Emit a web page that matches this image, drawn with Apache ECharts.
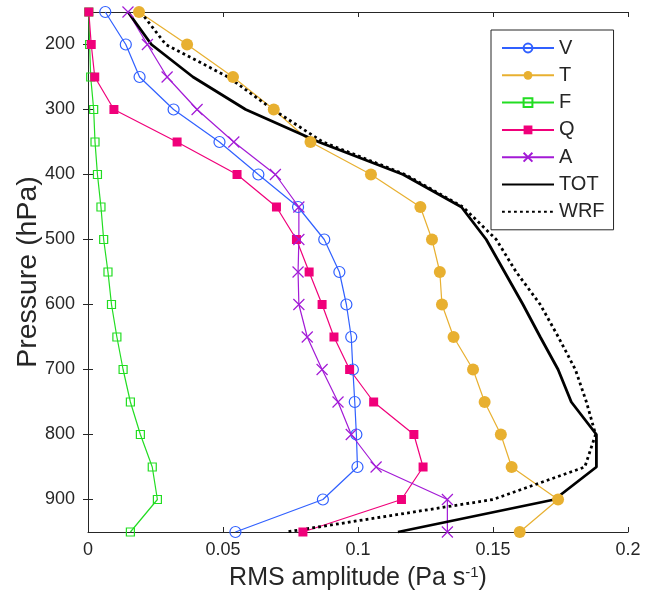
<!DOCTYPE html>
<html>
<head>
<meta charset="utf-8">
<script src="https://cdn.jsdelivr.net/npm/echarts@6/dist/echarts.min.js"></script>
<style>html,body{margin:0;padding:0;background:#fff}#c{width:654px;height:596px}</style>
</head>
<body>
<div id="c"></div>
<script>
const pressure = [150,200,250,300,350,400,450,500,550,600,650,700,750,800,850,900,950];
const V   = [0.0064,0.0140,0.0191,0.0317,0.0487,0.0631,0.0778,0.0875,0.0931,0.0957,0.0975,0.0981,0.0988,0.0994,0.0998,0.0870,0.0546];
const T   = [0.0189,0.0367,0.0537,0.0688,0.0824,0.1048,0.1231,0.1274,0.1303,0.1311,0.1354,0.1426,0.1469,0.1529,0.1569,0.1741,0.1599];
const F   = [0.0003,0.0006,0.0010,0.0021,0.0026,0.0035,0.0048,0.0058,0.0074,0.0087,0.0107,0.0130,0.0157,0.0194,0.0238,0.0257,0.0157];
const Q   = [0.0003,0.0012,0.0025,0.0096,0.0330,0.0552,0.0698,0.0772,0.0819,0.0867,0.0911,0.0969,0.1058,0.1207,0.1241,0.1161,0.0796];
const A   = [0.0148,0.0220,0.0293,0.0404,0.0540,0.0694,0.0781,0.0781,0.0778,0.0781,0.0812,0.0867,0.0926,0.0975,0.1067,0.1331,0.1331];
const TOT = [0.0148,0.0235,0.0389,0.0584,0.0855,0.1167,0.1383,0.1475,0.1543,0.1611,0.1675,0.1741,0.1790,0.1883,0.1883,0.1728,0.1148];
const WRF = [0.0195,0.0288,0.0519,0.0685,0.0870,0.1175,0.1389,0.1512,0.1586,0.1675,0.1742,0.1805,0.1846,0.1880,0.1840,0.1500,0.0735];
const yTicks = [200,300,400,500,600,700,800,900];
const xTicks = [0,0.05,0.1,0.15,0.2];

const FONT = 'Liberation Sans';
const AX = '#262626';
const pairs = arr => arr.map((v,i)=>[v, pressure[i]]);

function mk(name, data, color, symbol, size, filled) {
  return {
    name, type:'line', data: pairs(data), clip:false,
    symbol, symbolSize: size, showSymbol: true,
    lineStyle:{color, width:1.2},
    itemStyle: filled ? {color, borderColor: color, borderWidth: 0}
                      : {color:'rgba(0,0,0,0)', borderColor: color, borderWidth: 1.2},
    emphasis:{disabled:true}
  };
}

const chart = echarts.init(document.getElementById('c'), null, {renderer:'canvas'});
const axisCommon = {
  axisLine:{show:true, lineStyle:{color:AX, width:1}},
  splitLine:{show:false}
};
const noSym = {color:'rgba(0,0,0,0)', borderWidth:0, borderColor:'rgba(0,0,0,0)'};
chart.setOption({
  animation:false,
  backgroundColor:'#fff',
  textStyle:{fontFamily:FONT},
  grid:{left:88, right:26, top:12, bottom:64, containLabel:false, outerBoundsMode:'none'},
  legend:{
    orient:'vertical', left:491, top:30,
    data:['V','T','F','Q','A',
      {name:'TOT', itemStyle:noSym},
      {name:'WRF', itemStyle:noSym}],
    itemWidth:52, itemHeight:11, itemGap:7.3,
    padding:[8,9,8,10],
    borderColor:AX, borderWidth:1, backgroundColor:'#fff',
    textStyle:{fontFamily:FONT, fontSize:20, color:AX},
    selectedMode:false
  },
  xAxis:[
    Object.assign({type:'value', position:'bottom', min:0, max:0.2, interval:0.05,
      axisTick:{show:true, inside:true, length:5, lineStyle:{color:AX}},
      axisLabel:{show:true, margin:9, fontSize:18, color:AX, fontFamily:FONT,
        customValues: xTicks},
      name:'RMS amplitude (Pa s{sup|-1})', nameLocation:'middle', nameGap:33, nameMoveOverlap:false,
      nameTextStyle:{fontFamily:FONT, fontSize:25, color:AX,
        rich:{sup:{fontFamily:FONT, fontSize:15, color:AX, verticalAlign:'top', padding:[0,0,12,0]}}}
    }, axisCommon),
    Object.assign({type:'value', position:'top', min:0, max:0.2, interval:0.05,
      axisTick:{show:true, inside:true, length:5, lineStyle:{color:AX}},
      axisLabel:{show:false}}, axisCommon)
  ],
  yAxis:[
    Object.assign({type:'value', position:'left', inverse:true, min:150, max:950,
      axisTick:{show:true, inside:true, length:5, lineStyle:{color:AX}, customValues:yTicks},
      axisLabel:{show:true, margin:13, fontSize:18, color:AX, fontFamily:FONT, customValues:yTicks},
      name:'Pressure (hPa)', nameLocation:'middle', nameGap:45, nameMoveOverlap:false,
      nameTextStyle:{fontFamily:FONT, fontSize:28.5, color:AX}
    }, axisCommon),
    Object.assign({type:'value', position:'right', inverse:true, min:150, max:950,
      axisTick:{show:true, inside:true, length:5, lineStyle:{color:AX}, customValues:yTicks},
      axisLabel:{show:false}}, axisCommon)
  ],
  series:[
    mk('V', V, '#3060ff', 'circle', 11, false),
    mk('T', T, '#e8b030', 'circle', 12, true),
    mk('F', F, '#22dd22', 'rect', 8, false),
    mk('Q', Q, '#f0007a', 'rect', 9, true),
    mk('A', A, '#a31ad6', 'path://M0,0L10,10M10,0L0,10', 11, false),
    {name:'TOT', type:'line', data:pairs(TOT), symbol:'none', showSymbol:false, clip:false,
      lineStyle:{color:'#000', width:2.8}, itemStyle:{color:'#000'}, emphasis:{disabled:true}},
    {name:'WRF', type:'line', data:pairs(WRF), symbol:'none', showSymbol:false, clip:false,
      lineStyle:{color:'#000', width:2.8, type:[2.8,3.2]}, itemStyle:{color:'#000'}, emphasis:{disabled:true}}
  ]
});
</script>
</body>
</html>
